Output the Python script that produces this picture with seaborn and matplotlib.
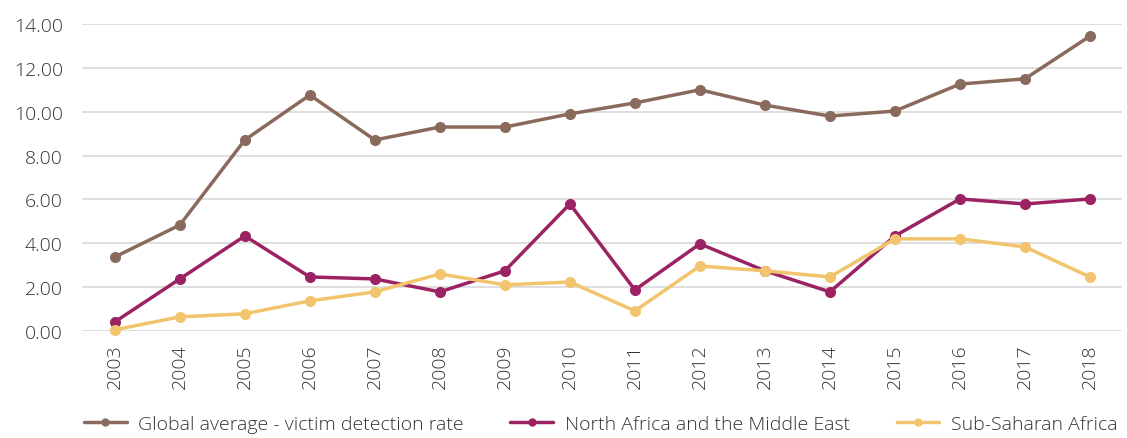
import numpy as np
import pandas as pd
import matplotlib
matplotlib.use("Agg")
import matplotlib.pyplot as plt
import seaborn as sns

years = list(range(2003, 2019))
global_avg = [3.37, 4.83, 8.71, 10.76, 8.71, 9.30, 9.30, 9.90, 10.40, 11.00, 10.30, 9.80, 10.03, 11.26, 11.50, 13.45]
north_africa = [0.41, 2.37, 4.33, 2.46, 2.37, 1.78, 2.74, 5.79, 1.87, 3.97, 2.74, 1.78, 4.33, 6.02, 5.79, 6.02]
sub_saharan = [0.05, 0.64, 0.78, 1.37, 1.78, 2.60, 2.10, 2.23, 0.91, 2.96, 2.74, 2.46, 4.20, 4.20, 3.83, 2.46]
series_names = ["Global average - victim detection rate", "North Africa and the Middle East", "Sub-Saharan Africa"]
colors = ["#8A6A5C", "#9C2363", "#F2C46D"]

df = pd.DataFrame({
    "year": years * 3,
    "value": global_avg + north_africa + sub_saharan,
    "series": np.repeat(series_names, len(years)),
})

sns.set_style("white")
plt.rcParams["font.family"] = ["Open Sans", "DejaVu Sans"]
plt.rcParams["font.weight"] = "light"

fig = plt.figure(figsize=(11.27, 4.39), dpi=100)
ax = fig.add_axes([0.073, 0.244, 0.923, 0.699])
sns.lineplot(data=df, x="year", y="value", hue="series", hue_order=series_names,
             palette=colors, marker="o", markersize=8, markeredgewidth=0,
             linewidth=2.5, ax=ax, legend=False, clip_on=False, zorder=3)

ax.set_xlim(2002.5, 2018.5)
ax.set_ylim(0, 14)
ax.set_yticks(np.arange(0, 15, 2))
ax.set_yticklabels([f"{v:.2f}" for v in np.arange(0, 15, 2)], fontsize=14, color="#333333")
ax.set_xticks(years)
ax.set_xticklabels([str(y) for y in years], rotation=90, fontsize=14, color="#333333")
ax.tick_params(axis="y", length=0, pad=14)
ax.tick_params(axis="x", length=0, pad=9)
ax.yaxis.grid(True, color="#d9d9d9", linewidth=1.2)
ax.set_axisbelow(True)
for s in ax.spines.values():
    s.set_visible(False)
ax.set_xlabel("")
ax.set_ylabel("")

handles = [plt.Line2D([], [], color=c, linewidth=2.5, marker="o", markersize=6, markeredgewidth=0) for c in colors]
fig.legend(handles, series_names, loc="lower center", bbox_to_anchor=(0.533, -0.028), ncol=3,
           frameon=False, fontsize=14, handlelength=2.2, columnspacing=2.4, handletextpad=0.6,
           labelcolor="#333333")

fig.savefig("out.png", dpi=100)
